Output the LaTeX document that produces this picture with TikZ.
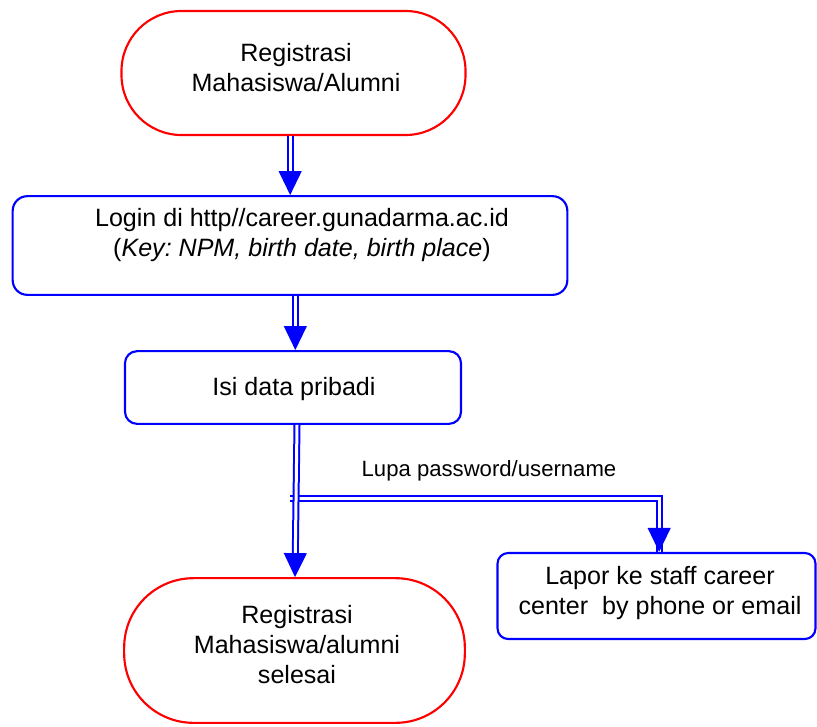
\documentclass[tikz,border=0pt]{standalone}
\usepackage{fontspec}
\setmainfont{Liberation Sans}
\usetikzlibrary{arrows.meta}
\frenchspacing
\begin{document}
\begin{tikzpicture}[x=0.75pt,y=-0.75pt,
  term/.style={draw=red,line width=1.6pt,rounded corners=#1,inner sep=0pt},
  proc/.style={draw=blue,line width=1.6pt,rounded corners=#1,inner sep=0pt},
  txt/.style={align=center,font=\fontsize{18.8}{22.5}\selectfont\frenchspacing,inner sep=0pt},
  dbl/.style={draw=blue,double=white,line width=1.5pt,double distance=2.25pt,
    -{Triangle[length=18pt,width=17pt,fill=blue]}},
  dblline/.style={draw=blue,double=white,line width=1.5pt,double distance=2.25pt}]
\useasboundingbox (0,0) rectangle (817,726);
% shapes
\node[term=45pt,minimum width=258pt,minimum height=93pt] (reg) at (293.5,73) {};
\node[proc=11pt,minimum width=416pt,minimum height=74pt] (login) at (290,245.5) {};
\node[proc=9pt,minimum width=252pt,minimum height=54.5pt] (isi) at (293,387.5) {};
\node[term=52pt,minimum width=255.5pt,minimum height=108.5pt] (end) at (294.5,650.5) {};
\node[proc=8pt,minimum width=238.5pt,minimum height=64.5pt] (lapor) at (656.5,596) {};
% texts
\node[txt] (regt) at (296,67.5) {Registrasi\\Mahasiswa/Alumni};
\node[txt] (logint) at (302,235.5) {Login di http//career.gunadarma.ac.id\\(\textit{Key: NPM, birth date, birth place})};
\node[txt] (isit) at (294,389) {Isi data pribadi};
\node[txt] (endt) at (297,645) {Registrasi\\Mahasiswa/alumni\\selesai};
\node[txt] (laport) at (660,593) {Lapor ke staff career\\center\ \ by phone or email};
\node[inner sep=0pt,font=\fontsize{16.6}{19}\selectfont] (lupa) at (489,471) {Lupa password/username};
% connectors
\coordinate (b) at (290,498);
\draw[dblline] (b) -| ([xshift=2pt]lapor.north) -- ([xshift=2pt,yshift=6pt]lapor.north);
\draw[dbl] ([xshift=2pt,yshift=6pt]lapor.north) -- ([xshift=2pt]lapor.north);
\draw[dbl] ([xshift=-2.5pt]reg.south) -- ([xshift=-2.5pt]reg.south |- login.north);
\draw[dbl] ([xshift=4pt]login.south) -- ([xshift=4pt]login.south |- isi.north);
\draw[dbl] ([xshift=3pt]isi.south) -- ([xshift=1.5pt]isi.south |- end.north);
\end{tikzpicture}
\end{document}
